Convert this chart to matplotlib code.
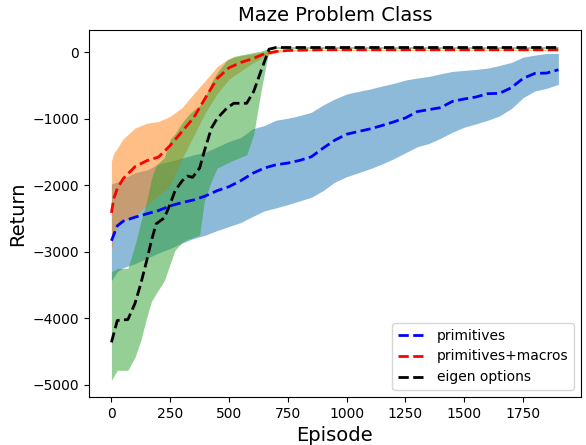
# maze_plot.py: return curves for the maze problem class

import matplotlib
matplotlib.use('Agg')
import matplotlib.pyplot as plt
import numpy as np

# primitives (blue)
prim_x = [0, 25, 50, 100, 150, 200, 250, 300, 350, 400, 450, 500, 550, 600,
          650, 700, 750, 800, 850, 900, 950, 1000, 1050, 1100, 1150, 1200,
          1250, 1300, 1350, 1400, 1450, 1500, 1550, 1600, 1650, 1700, 1750,
          1800, 1850, 1900]
prim_mean = [-2835, -2610, -2540, -2480, -2430, -2380, -2310, -2260, -2220,
             -2160, -2080, -2020, -1930, -1820, -1740, -1690, -1665, -1625,
             -1570, -1440, -1320, -1230, -1190, -1150, -1100, -1045, -985,
             -890, -860, -830, -735, -700, -670, -620, -615, -530, -390,
             -315, -310, -260]
prim_upper = [-1980, -1950, -1900, -1810, -1770, -1680, -1640, -1590, -1540,
              -1500, -1420, -1340, -1280, -1150, -1100, -1020, -990, -950,
              -900, -790, -700, -625, -585, -550, -505, -465, -415, -385,
              -360, -320, -285, -270, -255, -235, -195, -150, -70, -40, -15,
              -15]
prim_lower = [-3435, -3300, -3240, -3180, -3100, -3020, -2950, -2870, -2800,
              -2750, -2680, -2620, -2560, -2470, -2385, -2340, -2290, -2235,
              -2180, -2080, -1950, -1870, -1810, -1750, -1680, -1600, -1510,
              -1420, -1370, -1290, -1200, -1125, -1075, -1020, -955, -845,
              -680, -580, -540, -480]

# primitives+macros (orange / red)
macro_x = [0, 10, 25, 50, 100, 150, 200, 250, 300, 350, 400, 450, 500, 550,
           600, 650, 700, 750, 800, 900, 1000, 1100, 1200, 1300, 1400, 1500,
           1600, 1700, 1800, 1900]
macro_mean = [-2415, -2200, -2050, -1900, -1720, -1630, -1575, -1400, -1190,
              -980, -680, -390, -230, -150, -95, -20, 15, 30, 35, 40, 40, 40,
              40, 40, 40, 40, 40, 40, 40, 40]
macro_upper = [-1635, -1520, -1440, -1300, -1140, -1065, -1040, -960, -830,
               -620, -420, -210, -90, -50, -20, 10, 40, 50, 50, 50, 50, 50,
               50, 50, 50, 50, 50, 50, 50, 50]
macro_lower = [-2985, -2750, -2620, -2540, -2470, -2300, -2150, -2000, -1600,
               -1250, -900, -620, -400, -280, -160, -60, 0, 20, 25, 30, 30,
               30, 30, 30, 30, 30, 30, 30, 30, 30]

# eigen options (green / black)
eigen_x = [0, 25, 70, 100, 125, 150, 170, 190, 225, 250, 270, 300, 325, 345,
           375, 395, 425, 450, 490, 520, 575, 605, 635, 670, 700, 800, 1000,
           1200, 1400, 1600, 1800, 1900]
eigen_mean = [-4365, -4035, -4020, -3780, -3480, -3135, -2835, -2580, -2490,
              -2280, -2085, -1935, -1860, -1880, -1740, -1485, -1140, -990,
              -840, -765, -765, -585, -285, 50, 75, 75, 75, 75, 75, 75, 75, 75]
eigen_upper = [-3300, -3250, -3250, -2900, -2550, -2235, -1900, -1700, -1580,
               -1300, -1230, -1060, -950, -880, -800, -700, -450, -300, -120,
               -60, -20, 0, 20, 60, 90, 90, 90, 90, 90, 90, 90, 90]
eigen_lower = [-4935, -4785, -4785, -4590, -4335, -3990, -3750, -3630, -3435,
               -3180, -2980, -2860, -2810, -2790, -2750, -2235, -1935, -1740,
               -1670, -1620, -1540, -1230, -600, 40, 60, 60, 60, 60, 60, 60,
               60, 60]

fig, ax = plt.subplots(figsize=(5.86, 4.45), dpi=100)
fig.subplots_adjust(left=0.152, right=0.991, top=0.933, bottom=0.108)

# shaded bands
ax.fill_between(prim_x, prim_lower, prim_upper, color='tab:blue', alpha=0.5,
                linewidth=0)
ax.fill_between(macro_x, macro_lower, macro_upper, color='tab:orange',
                alpha=0.5, linewidth=0)
ax.fill_between(eigen_x, eigen_lower, eigen_upper, color='tab:green',
                alpha=0.5, linewidth=0)

# mean curves
ax.plot(prim_x, prim_mean, 'b--', linewidth=2, label='primitives')
ax.plot(macro_x, macro_mean, 'r--', linewidth=2, label='primitives+macros')
ax.plot(eigen_x, eigen_mean, 'k--', linewidth=2, label='eigen options')

ax.set_xticks(np.arange(0, 2000, 250))
ax.set_title('Maze Problem Class', fontsize=14)
ax.set_xlabel('Episode', fontsize=14)
ax.set_ylabel('Return', fontsize=14)
ax.legend(loc='lower right')

plt.savefig('out.png', dpi=100)
